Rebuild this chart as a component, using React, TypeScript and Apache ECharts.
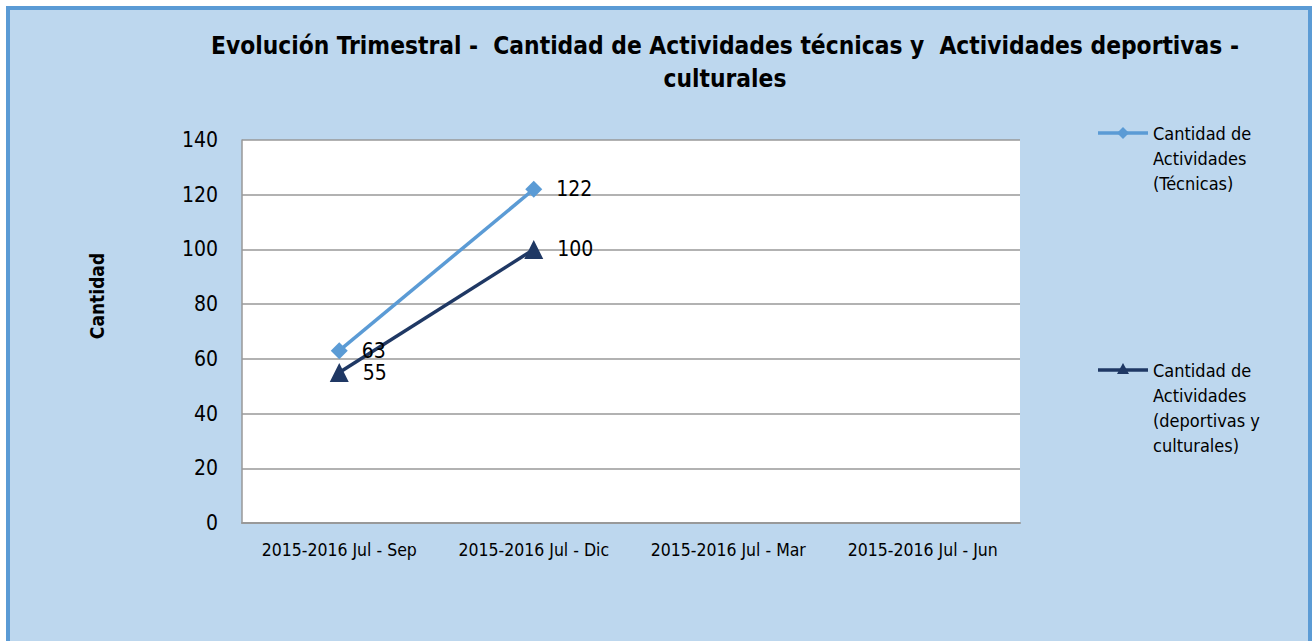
import React, { useEffect, useRef } from "react";
import * as echarts from "echarts";

const categories = [
  "2015-2016 Jul - Sep",
  "2015-2016 Jul - Dic",
  "2015-2016 Jul - Mar",
  "2015-2016 Jul - Jun",
];
const tecnicas: (number | null)[] = [63, 122, null, null];
const deportivas: (number | null)[] = [55, 100, null, null];
const seriesNames = [
  "Cantidad de Actividades (Técnicas)",
  "Cantidad de Actividades (deportivas y culturales)",
];
const legendLines = [
  "Cantidad de\nActividades\n(Técnicas)",
  "Cantidad de\nActividades\n(deportivas y\nculturales)",
];
const yTicks = { min: 0, max: 140, interval: 20 };

const FONT = "'Liberation Sans Narrow', 'DejaVu Sans Condensed', 'Open Sans', sans-serif";
const C1 = "#5B9BD5";
const C2 = "#1F3864";

export default function App() {
  const ref = useRef<HTMLDivElement>(null);
  useEffect(() => {
    if (!ref.current) return;
    const chart = echarts.init(ref.current, undefined, { renderer: "svg" });
    chart.setOption({
      animation: false,
      textStyle: { fontFamily: FONT },
      title: {
        text: "Evolución Trimestral -  Cantidad de Actividades técnicas y  Actividades deportivas -\nculturales",
        left: 720,
        top: 24,
        textAlign: "center",
        textStyle: {
          fontFamily: FONT,
          fontSize: 24.3,
          fontWeight: "bold",
          color: "#000",
          lineHeight: 33,
        },
      },
      grid: { left: 242, right: 292, top: 140, bottom: 118, show: true, backgroundColor: "#fff", borderWidth: 0 },
      xAxis: {
        type: "category",
        data: categories,
        boundaryGap: true,
        axisLine: { lineStyle: { color: "#999", width: 2 } },
        axisTick: { show: false },
        axisLabel: { color: "#000", fontSize: 17.5, fontFamily: FONT, margin: 18, interval: 0 },
      },
      yAxis: {
        type: "value",
        min: yTicks.min,
        max: yTicks.max,
        interval: yTicks.interval,
        axisLine: { show: true, lineStyle: { color: "#999", width: 1.5 } },
        axisTick: { show: false },
        splitLine: { lineStyle: { color: "#999", width: 1.5 } },
        axisLabel: { color: "#000", fontSize: 21, fontFamily: FONT, margin: 24 },
      },
      series: [
        {
          name: seriesNames[0],
          type: "line",
          data: tecnicas,
          symbol: "diamond",
          symbolSize: 17,
          lineStyle: { color: C1, width: 3.5 },
          itemStyle: { color: C1 },
          label: { show: true, position: "right", distance: 14, fontSize: 21, color: "#000", fontFamily: FONT },
        },
        {
          name: seriesNames[1],
          type: "line",
          data: deportivas,
          symbol: "triangle",
          symbolSize: 19,
          lineStyle: { color: C2, width: 3.5 },
          itemStyle: { color: C2 },
          label: { show: true, position: "right", distance: 14, fontSize: 21, color: "#000", fontFamily: FONT },
        },
      ],
      graphic: [
        {
          type: "text",
          x: 97,
          y: 296,
          rotation: Math.PI / 2,
          style: {
            text: "Cantidad",
            font: `bold 19px ${FONT}`,
            fill: "#000",
            textAlign: "center",
            textVerticalAlign: "middle",
          },
        },
        { type: "line", shape: { x1: 1098, y1: 133, x2: 1148, y2: 133 }, style: { stroke: C1, lineWidth: 3.5 } },
        { type: "polygon", shape: { points: [[1123, 127], [1129, 133], [1123, 139], [1117, 133]] }, style: { fill: C1 } },
        {
          type: "text",
          x: 1153,
          y: 121,
          style: { text: legendLines[0], font: `18px ${FONT}`, fill: "#000", lineHeight: 25, textVerticalAlign: "top" },
        },
        { type: "line", shape: { x1: 1098, y1: 370, x2: 1148, y2: 370 }, style: { stroke: C2, lineWidth: 3.5 } },
        { type: "polygon", shape: { points: [[1123, 363], [1129, 374], [1117, 374]] }, style: { fill: C2 } },
        {
          type: "text",
          x: 1153,
          y: 358,
          style: { text: legendLines[1], font: `18px ${FONT}`, fill: "#000", lineHeight: 25, textVerticalAlign: "top" },
        },
      ],
    });
    return () => chart.dispose();
  }, []);
  return (
    <div style={{ position: "absolute", left: 0, top: 0, width: 1312, height: 641, overflow: "hidden" }}>
      <div
        style={{
          position: "absolute",
          left: 6,
          top: 6,
          width: 1298,
          height: 650,
          border: "4px solid #5B9BD5",
          background: "#BDD7EE",
        }}
      />
      <div ref={ref} style={{ position: "absolute", left: 0, top: 0, width: 1312, height: 641 }} />
    </div>
  );
}
